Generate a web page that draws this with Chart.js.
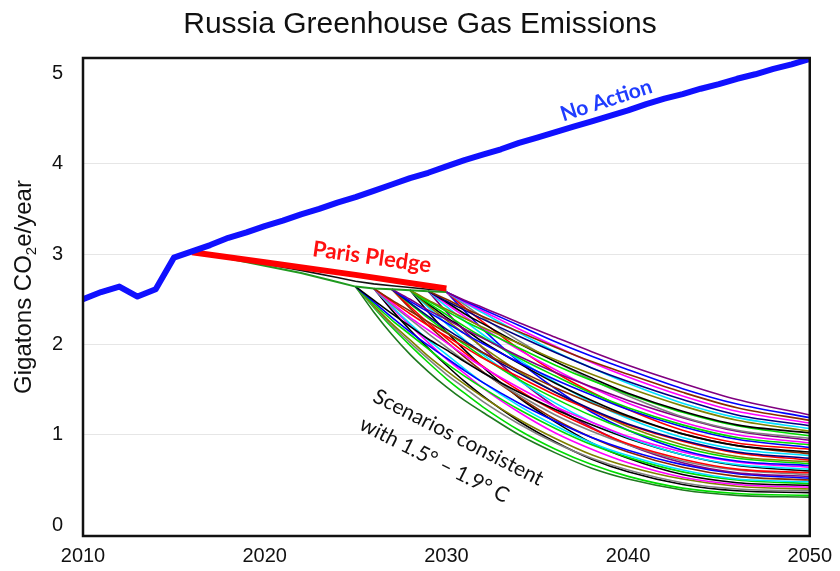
<!DOCTYPE html>
<html>
<head>
<meta charset="utf-8">
<title>Russia Greenhouse Gas Emissions</title>
<style>
  html, body { margin: 0; padding: 0; background: #ffffff; }
  #wrap { width: 840px; height: 571px; }
</style>
<script src="https://cdn.jsdelivr.net/npm/chart.js@4.4.1/dist/chart.umd.min.js"></script>
</head>
<body>
<div id="wrap"><canvas id="chart" width="840" height="571"></canvas></div>
<script>
// ---- Data (Gt CO2e per year) ----
const noActionYears = [2010, 2011, 2012, 2013, 2014, 2015, 2016, 2017, 2018, 2019,
  2020, 2021, 2022, 2023, 2024, 2025, 2026, 2027, 2028, 2029,
  2030, 2031, 2032, 2033, 2034, 2035, 2036, 2037, 2038, 2039,
  2040, 2041, 2042, 2043, 2044, 2045, 2046, 2047, 2048, 2049, 2050];
const noActionValues = [2.50, 2.58, 2.64, 2.53, 2.61, 2.96, 3.03, 3.10, 3.18, 3.24,
  3.31, 3.37, 3.44, 3.50, 3.57, 3.63, 3.70, 3.77, 3.84, 3.90,
  3.97, 4.04, 4.10, 4.16, 4.23, 4.29, 4.35, 4.41, 4.47, 4.53,
  4.59, 4.66, 4.72, 4.77, 4.83, 4.88, 4.94, 4.99, 5.05, 5.10, 5.16];

const pledgeYears = [2016, 2020, 2025, 2030];
const pledgeValues = [3.02, 2.91, 2.77, 2.62];

// trunks shared by the mitigation scenarios before they branch off
const trunkYears = [2016, 2018, 2020, 2022, 2024, 2025, 2026, 2027, 2028, 2029, 2030];
const upperTrunkValues = [3.02, 2.96, 2.89, 2.82, 2.74, 2.70, 2.67, 2.65, 2.63, 2.61, 2.60];
const lowerTrunkValues = [3.02, 2.95, 2.87, 2.79, 2.69, 2.64, 2.62, 2.61, 2.60, 2.59, 2.58];

// 1.5-1.9 C consistent scenarios, each starting where it leaves the trunk
const scenarioYears = [2025, 2026, 2027, 2028, 2029, 2030, 2031, 2032, 2034, 2036, 2038, 2040, 2043, 2046, 2050];
const _ = null;
const scenarioValues = [
  [_, _, _, _, _, 2.58, 2.49, 2.41, 2.24, 2.08, 1.92, 1.77, 1.57, 1.39, 1.22],
  [_, _, _, _, _, 2.58, 2.48, 2.39, 2.21, 2.03, 1.87, 1.72, 1.51, 1.34, 1.19],
  [_, _, _, _, 2.59, 2.50, 2.40, 2.31, 2.14, 1.97, 1.81, 1.67, 1.47, 1.30, 1.16],
  [_, _, _, _, _, 2.58, 2.47, 2.37, 2.17, 1.98, 1.80, 1.64, 1.43, 1.26, 1.13],
  [_, _, _, _, 2.59, 2.48, 2.38, 2.28, 2.09, 1.91, 1.74, 1.59, 1.39, 1.22, 1.10],
  [_, _, _, _, _, 2.58, 2.46, 2.35, 2.13, 1.92, 1.74, 1.57, 1.35, 1.19, 1.07],
  [_, _, _, 2.60, 2.49, 2.39, 2.29, 2.19, 2.01, 1.83, 1.67, 1.52, 1.32, 1.16, 1.04],
  [_, _, _, _, 2.59, 2.47, 2.34, 2.23, 2.01, 1.81, 1.63, 1.46, 1.26, 1.11, 1.02],
  [_, _, _, 2.60, 2.48, 2.37, 2.26, 2.16, 1.96, 1.77, 1.60, 1.45, 1.25, 1.10, 0.99],
  [_, _, _, _, _, 2.58, 2.44, 2.30, 2.04, 1.81, 1.61, 1.43, 1.20, 1.05, 0.96],
  [_, _, 2.61, 2.50, 2.38, 2.28, 2.17, 2.07, 1.87, 1.69, 1.53, 1.38, 1.19, 1.04, 0.94],
  [_, _, _, _, 2.59, 2.45, 2.31, 2.18, 1.94, 1.72, 1.52, 1.35, 1.14, 1.00, 0.91],
  [_, _, _, 2.60, 2.46, 2.33, 2.20, 2.08, 1.85, 1.65, 1.46, 1.30, 1.11, 0.97, 0.89],
  [_, _, 2.61, 2.48, 2.36, 2.24, 2.12, 2.01, 1.80, 1.61, 1.44, 1.28, 1.09, 0.95, 0.86],
  [_, _, _, _, _, 2.58, 2.41, 2.25, 1.95, 1.69, 1.47, 1.28, 1.05, 0.91, 0.84],
  [_, _, _, 2.60, 2.45, 2.30, 2.17, 2.03, 1.79, 1.57, 1.38, 1.21, 1.01, 0.88, 0.81],
  [_, 2.62, 2.49, 2.37, 2.25, 2.13, 2.02, 1.91, 1.71, 1.52, 1.35, 1.20, 1.01, 0.88, 0.79],
  [_, _, _, _, 2.59, 2.42, 2.26, 2.11, 1.83, 1.58, 1.36, 1.18, 0.97, 0.84, 0.77],
  [_, _, 2.61, 2.46, 2.31, 2.17, 2.04, 1.91, 1.68, 1.47, 1.28, 1.12, 0.94, 0.81, 0.74],
  [_, 2.62, 2.48, 2.34, 2.21, 2.09, 1.97, 1.85, 1.64, 1.44, 1.27, 1.11, 0.93, 0.80, 0.72],
  [_, _, _, 2.60, 2.43, 2.27, 2.12, 1.97, 1.70, 1.47, 1.27, 1.09, 0.89, 0.76, 0.70],
  [_, _, 2.61, 2.45, 2.29, 2.14, 2.00, 1.86, 1.61, 1.40, 1.21, 1.05, 0.86, 0.74, 0.68],
  [_, _, _, _, _, 2.58, 2.37, 2.17, 1.81, 1.51, 1.25, 1.05, 0.83, 0.71, 0.66],
  [_, 2.62, 2.46, 2.30, 2.16, 2.02, 1.88, 1.75, 1.52, 1.31, 1.14, 0.98, 0.81, 0.70, 0.64],
  [_, _, _, 2.60, 2.41, 2.23, 2.05, 1.89, 1.60, 1.35, 1.14, 0.97, 0.78, 0.67, 0.62],
  [2.64, 2.49, 2.34, 2.20, 2.06, 1.94, 1.81, 1.69, 1.47, 1.28, 1.11, 0.96, 0.78, 0.66, 0.60],
  [_, _, 2.61, 2.42, 2.24, 2.07, 1.91, 1.76, 1.49, 1.26, 1.07, 0.90, 0.73, 0.62, 0.58],
  [_, 2.62, 2.44, 2.28, 2.12, 1.97, 1.82, 1.69, 1.44, 1.22, 1.04, 0.89, 0.71, 0.61, 0.56],
  [_, _, _, _, 2.59, 2.36, 2.15, 1.96, 1.61, 1.31, 1.08, 0.89, 0.69, 0.58, 0.54],
  [2.64, 2.47, 2.30, 2.14, 1.99, 1.85, 1.71, 1.58, 1.35, 1.15, 0.97, 0.83, 0.67, 0.57, 0.52],
  [_, _, 2.61, 2.40, 2.21, 2.03, 1.86, 1.70, 1.42, 1.17, 0.97, 0.81, 0.64, 0.54, 0.50],
  [_, 2.62, 2.42, 2.23, 2.05, 1.89, 1.73, 1.58, 1.32, 1.10, 0.91, 0.77, 0.61, 0.51, 0.48],
  [2.64, 2.45, 2.27, 2.11, 1.95, 1.79, 1.65, 1.52, 1.28, 1.07, 0.89, 0.75, 0.59, 0.50, 0.46],
  [_, _, _, 2.60, 2.36, 2.14, 1.94, 1.75, 1.41, 1.14, 0.91, 0.74, 0.56, 0.47, 0.44],
  [_, 2.62, 2.41, 2.21, 2.02, 1.84, 1.68, 1.52, 1.25, 1.02, 0.84, 0.69, 0.53, 0.45, 0.42],
  [2.64, 2.43, 2.23, 2.05, 1.87, 1.71, 1.56, 1.42, 1.17, 0.96, 0.78, 0.65, 0.51, 0.43, 0.40],
  [2.64, 2.42, 2.21, 2.02, 1.84, 1.67, 1.52, 1.37, 1.12, 0.91, 0.74, 0.61, 0.47, 0.40, 0.38],
  [_, 2.62, 2.38, 2.16, 1.96, 1.77, 1.59, 1.43, 1.15, 0.92, 0.73, 0.59, 0.45, 0.38, 0.36],
  [2.64, 2.41, 2.19, 1.99, 1.80, 1.62, 1.46, 1.31, 1.05, 0.84, 0.67, 0.54, 0.41, 0.35, 0.33],
  [2.64, 2.36, 2.11, 1.89, 1.70, 1.53, 1.38, 1.25, 1.00, 0.80, 0.63, 0.51, 0.39, 0.33, 0.31]
];
const scenarioColors = [
  '#800080', '#0000ff', '#8b2a00', '#ff00ff', '#000080', '#00e0ff', '#808000', '#000000',
  '#00dd00', '#808080', '#800080', '#ff00ff', '#00dd00', '#0000ff', '#ff0000', '#000000',
  '#8b2a00', '#00e0ff', '#000080', '#ff0000', '#808000', '#00dd00', '#0000ff', '#ff00ff',
  '#00e0ff', '#000000', '#ff0000', '#808080', '#800080', '#0000ff', '#8b2a00', '#00e0ff',
  '#00dd00', '#000000', '#ff00ff', '#808000', '#808080', '#000000', '#00dd00', '#1e7b1e'
];

const xTickValues = [2010, 2020, 2030, 2040, 2050];
const yTickValues = [0, 1, 2, 3, 4, 5];

// ---- helpers ----
const toPoints = (xs, ys) => xs.map((x, i) => ({ x: x, y: ys[i] }));
const SANS = '"Liberation Sans", Arial, Helvetica, sans-serif';
const CALLOUT = 'Lato, "Open Sans", sans-serif';

const datasets = [
  {
    label: 'No Action',
    data: toPoints(noActionYears, noActionValues),
    borderColor: '#1010ff',
    borderWidth: 6,
    tension: 0,
    borderJoinStyle: 'round',
    borderCapStyle: 'round'
  },
  {
    label: 'Paris Pledge',
    data: toPoints(pledgeYears, pledgeValues),
    borderColor: '#ff0000',
    borderWidth: 6,
    tension: 0,
    borderJoinStyle: 'round',
    borderCapStyle: 'butt'
  },
  {
    label: 'Scenario trunk (upper)',
    data: toPoints(trunkYears, upperTrunkValues),
    borderColor: '#111111',
    borderWidth: 1.6,
    tension: 0
  },
  {
    label: 'Scenario trunk (lower)',
    data: toPoints(trunkYears, lowerTrunkValues),
    borderColor: '#1f9a1f',
    borderWidth: 2,
    tension: 0
  }
];
scenarioValues.forEach((row, i) => {
  datasets.push({
    label: 'Scenario ' + (i + 1),
    data: toPoints(scenarioYears, row),
    borderColor: scenarioColors[i],
    borderWidth: 1.6,
    cubicInterpolationMode: 'monotone',
    spanGaps: false
  });
});

// frame, title, axis title with subscript and the in-plot callouts
const decorations = {
  id: 'decorations',
  afterDraw(chart, args, opts) {
    const ctx = chart.ctx;
    const area = chart.chartArea;
    const xs = chart.scales.x;
    const ys = chart.scales.y;

    ctx.save();
    ctx.strokeStyle = '#111111';
    ctx.lineWidth = 2.5;
    ctx.strokeRect(area.left, area.top, area.right - area.left, area.bottom - area.top);
    ctx.restore();

    // title
    ctx.save();
    ctx.fillStyle = '#111111';
    ctx.font = '30px ' + SANS;
    ctx.textAlign = 'center';
    ctx.textBaseline = 'alphabetic';
    ctx.fillText(opts.title, chart.width / 2, 33);
    ctx.restore();

    // y axis title: "Gigatons CO2e/year" with a subscript 2
    ctx.save();
    ctx.fillStyle = '#111111';
    ctx.textBaseline = 'alphabetic';
    const big = '24px ' + SANS, small = '15px ' + SANS;
    const parts = [
      { t: 'Gigatons CO', f: big, dy: 0 },
      { t: '2', f: small, dy: 5 },
      { t: 'e/year', f: big, dy: 0 }
    ];
    let total = 0;
    parts.forEach(p => { ctx.font = p.f; p.w = ctx.measureText(p.t).width; total += p.w; });
    ctx.translate(31, (area.top + area.bottom) / 2 - 10);
    ctx.rotate(-Math.PI / 2);
    let cx = -total / 2;
    parts.forEach(p => { ctx.font = p.f; ctx.fillText(p.t, cx, p.dy); cx += p.w; });
    ctx.restore();

    // callouts anchored in data units
    opts.callouts.forEach(c => {
      ctx.save();
      ctx.translate(xs.getPixelForValue(c.x), ys.getPixelForValue(c.y));
      ctx.rotate(c.angle * Math.PI / 180);
      ctx.fillStyle = c.color;
      ctx.font = c.font;
      ctx.textAlign = 'center';
      ctx.textBaseline = 'middle';
      ctx.fillText(c.text, 0, 0);
      ctx.restore();
    });
  }
};

new Chart(document.getElementById('chart'), {
  type: 'line',
  data: { datasets: datasets },
  plugins: [decorations],
  options: {
    responsive: false,
    animation: false,
    devicePixelRatio: 1,
    layout: { padding: { top: 58, right: 27, bottom: 0, left: 0 } },
    elements: { point: { radius: 0, hoverRadius: 0 }, line: { fill: false } },
    plugins: {
      legend: { display: false },
      tooltip: { enabled: false },
      title: { display: false },
      decorations: {
        title: 'Russia Greenhouse Gas Emissions',
        callouts: [
          { text: 'No Action', x: 2038.8, y: 4.70, angle: -18, color: '#1f3cff', font: 'bold 21px ' + CALLOUT },
          { text: 'Paris Pledge', x: 2025.9, y: 2.965, angle: 8, color: '#ff1010', font: 'bold 22px ' + CALLOUT },
          { text: 'Scenarios consistent', x: 2030.66, y: 0.97, angle: 27, color: '#111111', font: '21px ' + CALLOUT },
          { text: 'with 1.5\u00B0 \u2013 1.9\u00B0 C', x: 2029.34, y: 0.72, angle: 27, color: '#111111', font: '21px ' + CALLOUT }
        ]
      }
    },
    scales: {
      x: {
        type: 'linear',
        min: 2010,
        max: 2050,
        afterBuildTicks: s => { s.ticks = xTickValues.map(v => ({ value: v })); },
        afterFit: s => { s.height = 35; },
        grid: { display: false, drawTicks: false },
        border: { display: false },
        ticks: {
          color: '#111111',
          font: { family: SANS, size: 20 },
          padding: 8,
          maxRotation: 0,
          autoSkip: false,
          callback: v => String(v)
        }
      },
      y: {
        type: 'linear',
        min: -0.12,
        max: 5.17,
        afterBuildTicks: s => { s.ticks = yTickValues.map(v => ({ value: v })); },
        afterFit: s => { s.width = 83; },
        grid: {
          drawTicks: false,
          lineWidth: 1,
          color: c => (c.tick && c.tick.value > 0 && c.tick.value < 5) ? '#e6e6e6' : 'rgba(0,0,0,0)'
        },
        border: { display: false },
        ticks: {
          color: '#111111',
          font: { family: SANS, size: 20 },
          padding: 20,
          callback: v => String(v)
        }
      }
    }
  }
});
</script>
</body>
</html>
